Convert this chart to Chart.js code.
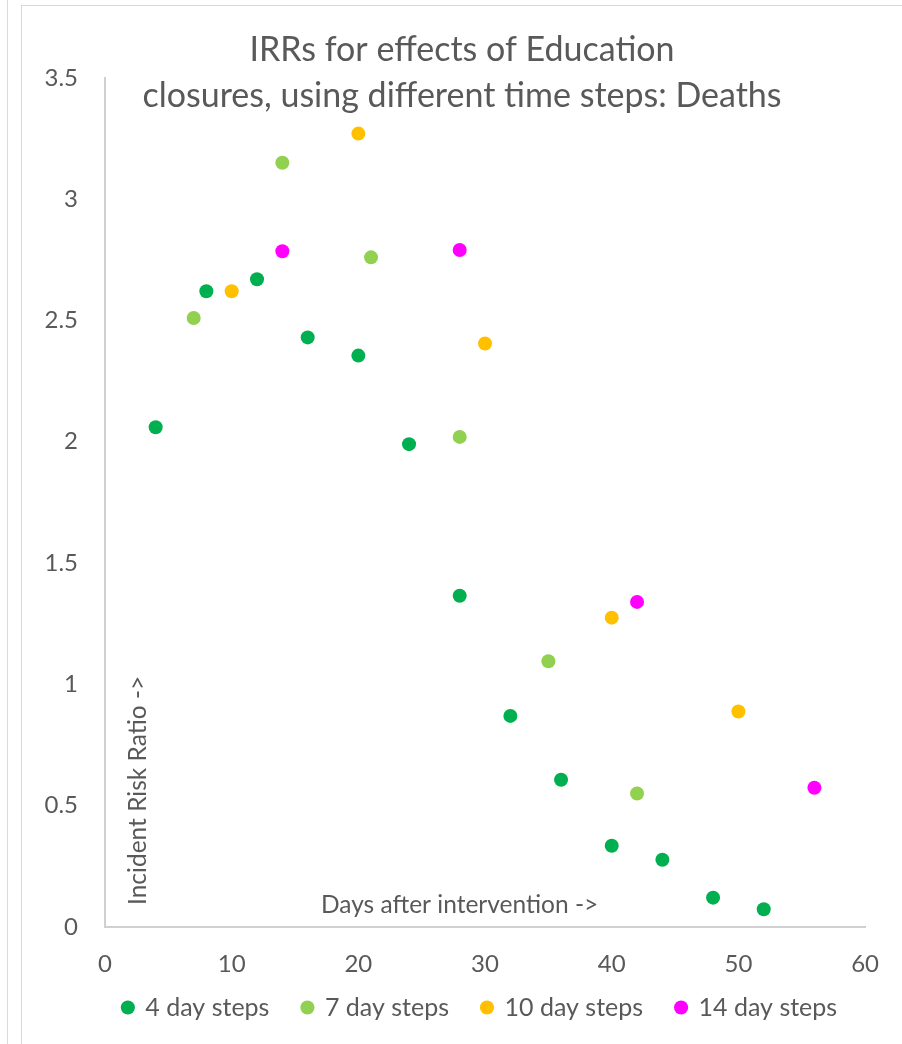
<!DOCTYPE html>
<html>
<head>
<meta charset="utf-8">
<script src="https://cdn.jsdelivr.net/npm/chart.js@4.4.1/dist/chart.umd.min.js"></script>
<style>
  html, body { margin: 0; padding: 0; background: #fff; }
  body { width: 902px; height: 1044px; position: relative; overflow: hidden; }
  .edge { position: absolute; left: 7px; top: 0; width: 1px; height: 1044px; background: #d9d9d9; }
  .frame { position: absolute; left: 21px; top: 5px; right: -5px; bottom: -5px;
           border-left: 1px solid #d9d9d9; border-top: 1px solid #d9d9d9; }
  .wrap { position: absolute; left: 22px; top: 6px; width: 880px; height: 1038px; }
</style>
</head>
<body>
<div class="edge"></div>
<div class="frame"></div>
<div class="wrap"><canvas id="chart"></canvas></div>
<script>
// data
const fourDayX = [4, 8, 12, 16, 20, 24, 28, 32, 36, 40, 44, 48, 52];
const fourDayIRR = [2.06, 2.62, 2.67, 2.43, 2.355, 1.99, 1.365, 0.87, 0.607, 0.335, 0.277, 0.121, 0.073];
const sevenDayX = [7, 14, 21, 28, 35, 42];
const sevenDayIRR = [2.51, 3.15, 2.76, 2.02, 1.095, 0.55];
const tenDayX = [10, 20, 30, 40, 50];
const tenDayIRR = [2.62, 3.27, 2.405, 1.275, 0.888];
const fourteenDayX = [14, 28, 42, 56];
const fourteenDayIRR = [2.785, 2.79, 1.34, 0.574];

const seriesNames = ["4 day steps", "7 day steps", "10 day steps", "14 day steps"];
const seriesColors = ["#00B050", "#92D050", "#FFC000", "#FF00FF"];
const titleLines = ["IRRs for effects of Education", "closures, using different time steps: Deaths"];
const xLabel = "Days after intervention ->";
const yLabel = "Incident Risk Ratio ->";

const FONT = "Lato, 'Liberation Sans', sans-serif";
const GREY = "#595959";

function points(xs, ys) {
  return xs.map((x, i) => ({ x: x, y: ys[i] }));
}

const allX = [fourDayX, sevenDayX, tenDayX, fourteenDayX];
const allY = [fourDayIRR, sevenDayIRR, tenDayIRR, fourteenDayIRR];

// axis titles sit inside the plot, like the original
const innerLabels = {
  id: "innerLabels",
  afterLayout(chart) {
    // let the x tick labels spill below the (short) x scale box
    chart.scales.x.bottom = chart.height;
    // the legend in the original sits a bit right of centre
    chart.legend.left += 18;
    chart.legend.right += 18;
  },
  afterDatasetsDraw(chart) {
    const { ctx, chartArea } = chart;
    ctx.save();
    ctx.fillStyle = GREY;
    ctx.font = "24.5px " + FONT;
    ctx.textBaseline = "middle";
    ctx.textAlign = "left";
    ctx.fillText(xLabel, chartArea.left + 216, chartArea.bottom - 22);
    ctx.translate(chartArea.left + 33, chartArea.bottom - 22);
    ctx.rotate(-Math.PI / 2);
    ctx.fillText(yLabel, 0, 0);
    ctx.restore();
  }
};

const ctx = document.getElementById("chart").getContext("2d");
const irrChart = new Chart(ctx, {
  type: "scatter",
  data: {
    datasets: seriesNames.map((name, i) => ({
      label: name,
      data: points(allX[i], allY[i]),
      backgroundColor: seriesColors[i],
      borderWidth: 0,
      pointRadius: 7,
      pointHoverRadius: 7,
    })),
  },
  options: {
    responsive: true,
    maintainAspectRatio: false,
    animation: false,
    layout: { padding: { left: 0, right: 0, top: 0, bottom: 14 } },
    scales: {
      x: {
        type: "linear",
        min: 0,
        max: 60,
        ticks: { stepSize: 10, color: GREY, font: { family: FONT, size: 24 }, padding: 23 },
        grid: { display: false, drawTicks: false },
        border: { display: true, color: "#d0d0d0", width: 2 },
        afterFit: (scale) => { scale.height = 35; },
      },
      y: {
        type: "linear",
        min: 0,
        max: 3.5,
        ticks: {
          stepSize: 0.5, color: GREY, font: { family: FONT, size: 24 }, padding: 27,
          callback: (v) => String(v),
        },
        grid: { display: false, drawTicks: false },
        border: { display: true, color: "#d0d0d0", width: 2 },
        afterFit: (scale) => { scale.width = 83; },
      },
      spacer: {
        type: "linear",
        position: "right",
        display: true,
        ticks: { display: false },
        grid: { display: false, drawTicks: false },
        border: { display: false },
        afterFit: (scale) => { scale.width = 32; },
      },
    },
    plugins: {
      title: {
        display: true,
        text: titleLines,
        color: GREY,
        font: { family: FONT, size: 34, weight: "normal", lineHeight: 1.35 },
        padding: { top: 21, bottom: -41 },
      },
      legend: {
        position: "bottom",
        labels: {
          usePointStyle: true,
          pointStyle: "circle",
          boxWidth: 10,
          boxHeight: 10,
          padding: 33,
          color: GREY,
          font: { family: FONT, size: 25 },
        },
      },
      tooltip: { enabled: false },
    },
  },
  plugins: [innerLabels],
});
</script>
</body>
</html>
